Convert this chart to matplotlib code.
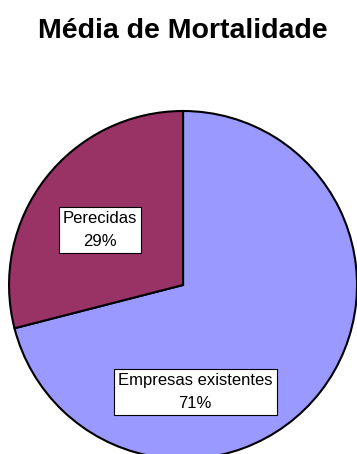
import matplotlib.pyplot as plt

plt.rcParams['font.family'] = ['Liberation Sans', 'DejaVu Sans']

categories = ['Empresas existentes', 'Perecidas']
values = [71, 29]
colors = ['#9999FF', '#993366']

fig = plt.figure(figsize=(3.57, 4.54), dpi=100)
ax = fig.add_axes([0.0252, -0.011, 0.975, 0.7665])

wedges, _ = ax.pie(values, colors=colors, startangle=90, counterclock=False,
                   radius=1, wedgeprops=dict(edgecolor='black', linewidth=1.5))
for w in wedges:
    w.set_clip_on(False)

ax.set_xlim(-1, 1)
ax.set_ylim(-1, 1)
ax.set_aspect('equal')
ax.axis('off')

# label boxes
label_pos = [(0.07, -0.615), (-0.477, 0.316)]
for name, val, (x, y) in zip(categories, values, label_pos):
    ax.text(x, y, f'{name}\n{val}%', ha='center', va='center', fontsize=12,
            linespacing=1.6,
            bbox=dict(boxstyle='square,pad=0.25', facecolor='white',
                      edgecolor='black', linewidth=0.8))

fig.text(0.513, 0.932, 'Média de Mortalidade', ha='center', va='center',
         fontsize=20.5, fontweight='bold')

fig.savefig('out.png', dpi=100)
